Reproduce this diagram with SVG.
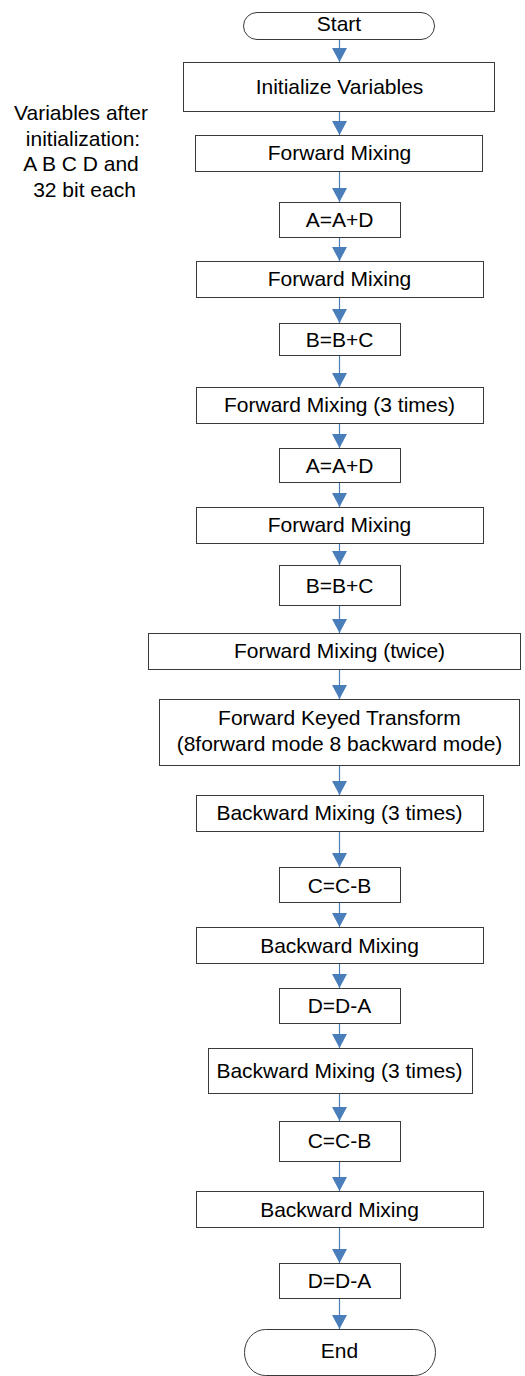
<svg xmlns="http://www.w3.org/2000/svg" width="525" height="1376" viewBox="0 0 525 1376">
<style>
.box{fill:#fff;stroke:#3a3a3a;stroke-width:1}
.t{font-family:"Liberation Sans",Arial,sans-serif;font-size:21px;fill:#000;text-anchor:middle}
.c{stroke:#4a7ebb;stroke-width:1.2;fill:none;marker-end:url(#ah)}
</style>
<defs>
<marker id="ah" markerUnits="userSpaceOnUse" markerWidth="14" markerHeight="15" viewBox="0 0 14 15" refX="14" refY="7.5" orient="auto">
<path d="M0,0 L14,7.5 L0,15 Z" fill="#4a7ebb"/>
</marker>
</defs>
<rect width="525" height="1376" fill="#fff"/>
<g id="connectors">
<path class="c" d="M339.5,39 V62"/>
<path class="c" d="M339.5,111 V135"/>
<path class="c" d="M339.5,171 V202"/>
<path class="c" d="M339.5,237 V261"/>
<path class="c" d="M339.5,297 V323"/>
<path class="c" d="M339.5,355 V387"/>
<path class="c" d="M339.5,423 V448"/>
<path class="c" d="M339.5,482 V507"/>
<path class="c" d="M339.5,543 V565"/>
<path class="c" d="M339.5,605 V633"/>
<path class="c" d="M339.5,669 V699"/>
<path class="c" d="M339.5,765 V795"/>
<path class="c" d="M339.5,831 V867"/>
<path class="c" d="M339.5,903 V927"/>
<path class="c" d="M339.5,963 V988"/>
<path class="c" d="M339.5,1023 V1048"/>
<path class="c" d="M339.5,1093 V1121"/>
<path class="c" d="M339.5,1161 V1191"/>
<path class="c" d="M339.5,1227 V1263"/>
<path class="c" d="M339.5,1298 V1329"/>
</g>
<g id="start"><rect class="box" x="243.5" y="12.5" width="191" height="27" rx="13.5"/><text class="t" x="339" y="31">Start</text></g>
<g id="init"><rect class="box" x="183.5" y="62.5" width="311" height="49"/><text class="t" x="339.5" y="93.5">Initialize Variables</text></g>
<g id="note"><text class="t" x="81"  y="120">Variables after</text><text class="t" x="83" y="146">initialization:</text><text class="t" x="81" y="171">A B C D and</text><text class="t" x="84.5" y="197">32 bit each</text></g>
<g id="fm1"><rect class="box" x="195.5" y="135.5" width="287" height="36"/><text class="t" x="339.5" y="160">Forward Mixing</text></g>
<g id="add1"><rect class="box" x="279.5" y="202.5" width="121" height="35"/><text class="t" x="339.5" y="227">A=A+D</text></g>
<g id="fm2"><rect class="box" x="196.5" y="261.5" width="287" height="36"/><text class="t" x="339.5" y="286">Forward Mixing</text></g>
<g id="add2"><rect class="box" x="279.5" y="323.5" width="121" height="32"/><text class="t" x="339.5" y="347">B=B+C</text></g>
<g id="fm3"><rect class="box" x="196.5" y="387.5" width="287" height="36"/><text class="t" x="339.5" y="412">Forward Mixing (3 times)</text></g>
<g id="add3"><rect class="box" x="279.5" y="448.5" width="121" height="34"/><text class="t" x="339.5" y="472.5">A=A+D</text></g>
<g id="fm4"><rect class="box" x="196.5" y="507.5" width="287" height="36"/><text class="t" x="339.5" y="532">Forward Mixing</text></g>
<g id="add4"><rect class="box" x="279.5" y="565.5" width="121" height="40"/><text class="t" x="339.5" y="592.5">B=B+C</text></g>
<g id="fm5"><rect class="box" x="148.5" y="633.5" width="372" height="36"/><text class="t" x="339.5" y="658">Forward Mixing (twice)</text></g>
<g id="fkt"><rect class="box" x="159.5" y="699.5" width="360" height="66"/><text class="t" x="339.5" y="725">Forward Keyed Transform</text><text class="t" x="339.5" y="750.5">(8forward mode 8 backward mode)</text></g>
<g id="bm1"><rect class="box" x="196.5" y="795.5" width="287" height="36"/><text class="t" x="339.5" y="820">Backward Mixing (3 times)</text></g>
<g id="sub1"><rect class="box" x="279.5" y="867.5" width="121" height="35"/><text class="t" x="339.5" y="892.5">C=C-B</text></g>
<g id="bm2"><rect class="box" x="196.5" y="927.5" width="287" height="36"/><text class="t" x="339.5" y="952.5">Backward Mixing</text></g>
<g id="sub2"><rect class="box" x="279.5" y="988.5" width="121" height="35"/><text class="t" x="339.5" y="1013">D=D-A</text></g>
<g id="bm3"><rect class="box" x="208.5" y="1048.5" width="264" height="45"/><text class="t" x="339.5" y="1078">Backward Mixing (3 times)</text></g>
<g id="sub3"><rect class="box" x="279.5" y="1121.5" width="121" height="40"/><text class="t" x="339.5" y="1148">C=C-B</text></g>
<g id="bm4"><rect class="box" x="196.5" y="1191.5" width="287" height="36"/><text class="t" x="339.5" y="1216.5">Backward Mixing</text></g>
<g id="sub4"><rect class="box" x="279.5" y="1263.5" width="121" height="35"/><text class="t" x="339.5" y="1288">D=D-A</text></g>
<g id="end"><rect class="box" x="244.5" y="1329.5" width="191" height="46" rx="21" ry="23"/><text class="t" x="339.5" y="1358">End</text></g>
</svg>
